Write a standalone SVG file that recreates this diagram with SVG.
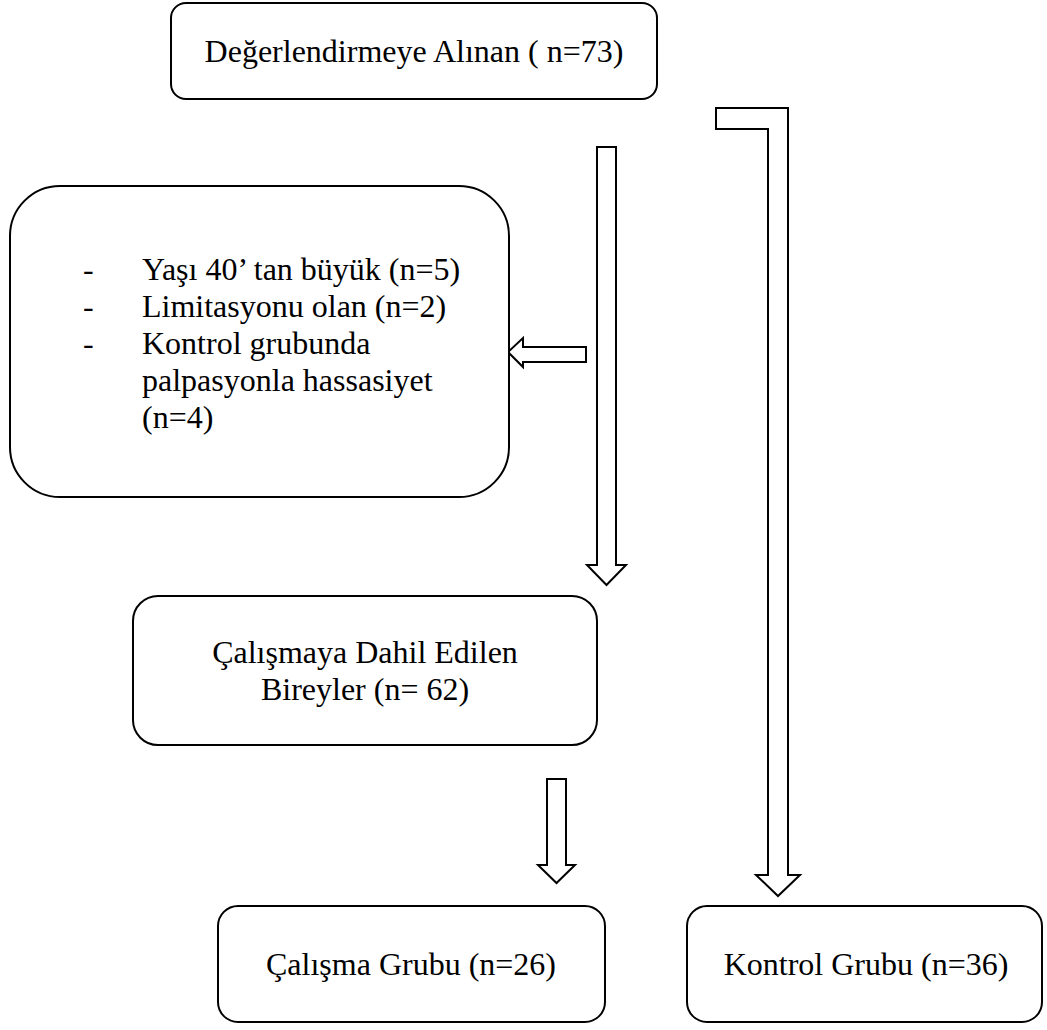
<svg xmlns="http://www.w3.org/2000/svg" width="1047" height="1030" viewBox="0 0 1047 1030">
  <style>
    .box { fill: #ffffff; stroke: #000000; stroke-width: 2; }
    .arr { fill: #ffffff; stroke: #000000; stroke-width: 2; stroke-linejoin: miter; }
    .t { font-family: "Liberation Serif", "Times New Roman", serif; font-size: 32px; fill: #000000; }
    .c { text-anchor: middle; }
  </style>
  <rect width="1047" height="1030" fill="#ffffff"/>
  <g id="connectors">
    <path id="arrow-main" class="arr" d="M597,147 L616,147 L616,565 L626,565 L606.5,585 L587,565 L597,565 Z"/>
    <path id="arrow-left" class="arr" d="M586,347 L586,362 L523,362 L523,367 L508,352 L523,338 L523,347 Z"/>
    <path id="arrow-small" class="arr" d="M547,779 L566,779 L566,865 L575,865 L556.5,883 L538,865 L547,865 Z"/>
    <path id="arrow-right" class="arr" d="M716,108 L788,108 L788,875 L800,875 L778,896 L756,875 L768,875 L768,129 L716,129 Z"/>
  </g>
  <g id="node-top">
    <rect class="box" x="171" y="3" width="486" height="96" rx="15" ry="15"/>
    <text class="t c" x="414" y="62">Değerlendirmeye Alınan ( n=73)</text>
  </g>
  <g id="node-excluded">
    <rect class="box" x="10" y="186" width="499" height="311" rx="50" ry="50"/>
    <text class="t" x="83" y="280">-</text>
    <text class="t" x="142" y="280">Yaşı 40’ tan büyük (n=5)</text>
    <text class="t" x="83" y="317">-</text>
    <text class="t" x="142" y="317">Limitasyonu olan (n=2)</text>
    <text class="t" x="83" y="354">-</text>
    <text class="t" x="142" y="354">Kontrol grubunda</text>
    <text class="t" x="142" y="391">palpasyonla hassasiyet</text>
    <text class="t" x="142" y="428">(n=4)</text>
  </g>
  <g id="node-included">
    <rect class="box" x="133" y="596" width="464" height="149" rx="25" ry="25"/>
    <text class="t c" x="365" y="663">Çalışmaya Dahil Edilen</text>
    <text class="t c" x="365" y="700">Bireyler (n= 62)</text>
  </g>
  <g id="node-study">
    <rect class="box" x="218" y="906" width="387" height="116" rx="20" ry="20"/>
    <text class="t c" x="411" y="975">Çalışma Grubu (n=26)</text>
  </g>
  <g id="node-control">
    <rect class="box" x="687" y="906" width="355" height="116" rx="20" ry="20"/>
    <text class="t c" x="866" y="975">Kontrol Grubu (n=36)</text>
  </g>
</svg>
